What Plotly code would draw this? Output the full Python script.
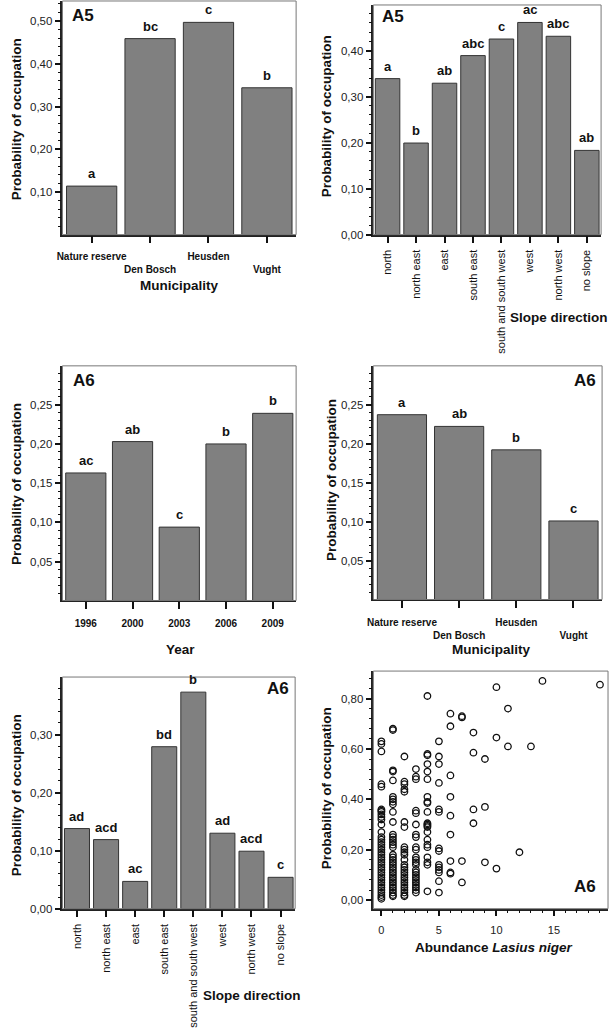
import plotly.graph_objects as go

W, H = 610, 1031

# ---------------- data ----------------
mun_cats = ["Nature reserve", "Den Bosch", "Heusden", "Vught"]
a5_mun_vals = [0.114, 0.459, 0.497, 0.344]
a5_mun_letters = ["a", "bc", "c", "b"]

slope_cats = ["north", "north east", "east", "south east", "south and south west",
              "west", "north west", "no slope"]
a5_slope_vals = [0.339, 0.199, 0.329, 0.389, 0.425, 0.461, 0.431, 0.183]
a5_slope_letters = ["a", "b", "ab", "abc", "c", "ac", "abc", "ab"]

year_cats = ["1996", "2000", "2003", "2006", "2009"]
a6_year_vals = [0.163, 0.203, 0.094, 0.200, 0.239]
a6_year_letters = ["ac", "ab", "c", "b", "b"]

a6_mun_vals = [0.237, 0.222, 0.192, 0.101]
a6_mun_letters = ["a", "ab", "b", "c"]

a6_slope_vals = [0.138, 0.119, 0.047, 0.279, 0.373, 0.130, 0.099, 0.054]
a6_slope_letters = ["ad", "acd", "ac", "bd", "b", "ad", "acd", "c"]

# scatter: probability of occupation by abundance of Lasius niger
ab0 = [0.63, 0.62, 0.59, 0.46, 0.45, 0.36, 0.355, 0.35, 0.34, 0.33, 0.32, 0.30, 0.27,
       0.25, 0.24, 0.23, 0.22, 0.21, 0.20, 0.19, 0.18, 0.17, 0.16, 0.15, 0.14, 0.13,
       0.12, 0.11, 0.10, 0.09, 0.08, 0.07, 0.06, 0.05, 0.04, 0.03, 0.02, 0.012, 0.005]
ab1 = [0.68, 0.675, 0.515, 0.51, 0.475, 0.41, 0.40, 0.39, 0.38, 0.35, 0.31, 0.26,
       0.25, 0.24, 0.23, 0.22, 0.21, 0.18, 0.17, 0.16, 0.15, 0.14, 0.13, 0.12, 0.11,
       0.10, 0.09, 0.08, 0.07, 0.06, 0.05, 0.04, 0.03, 0.02, 0.015]
ab2 = [0.57, 0.47, 0.46, 0.44, 0.43, 0.31, 0.29, 0.21, 0.20, 0.19, 0.18, 0.16, 0.14,
       0.13, 0.12, 0.11, 0.10, 0.09, 0.08, 0.07, 0.06, 0.05, 0.04, 0.03, 0.02, 0.015]
ab3 = [0.52, 0.49, 0.48, 0.355, 0.345, 0.30, 0.26, 0.25, 0.21, 0.20, 0.17, 0.16, 0.15,
       0.14, 0.12, 0.11, 0.10, 0.09, 0.08, 0.07, 0.06, 0.05, 0.04, 0.03]
ab4 = [0.81, 0.58, 0.575, 0.54, 0.51, 0.48, 0.41, 0.39, 0.385, 0.35, 0.305, 0.30,
       0.295, 0.29, 0.27, 0.24, 0.22, 0.21, 0.17, 0.15, 0.14, 0.035]
ab5 = [0.63, 0.57, 0.54, 0.465, 0.36, 0.35, 0.205, 0.195, 0.14, 0.13, 0.12, 0.11,
       0.075, 0.03]
ab6 = [0.74, 0.69, 0.495, 0.41, 0.335, 0.26, 0.155, 0.11, 0.105]
ab7 = [0.73, 0.725, 0.155, 0.07]
ab8 = [0.665, 0.585, 0.36, 0.305]
ab9 = [0.56, 0.37, 0.15]
ab10 = [0.845, 0.645, 0.125]
ab11 = [0.76, 0.61]
ab12 = [0.19]
ab13 = [0.61]
ab14 = [0.87]
ab19 = [0.855]

groups = [(0, ab0), (1, ab1), (2, ab2), (3, ab3), (4, ab4), (5, ab5), (6, ab6),
          (7, ab7), (8, ab8), (9, ab9), (10, ab10), (11, ab11), (12, ab12),
          (13, ab13), (14, ab14), (19, ab19)]
scat_x, scat_y = [], []
for a, ys in groups:
    scat_x += [a] * len(ys)
    scat_y += ys

# ---------------- layout helpers ----------------
FONT = "Liberation Sans, Arial, Helvetica, sans-serif"
BAR_FILL = "#808080"
BAR_LINE = "#333333"


def dx(l, r):
    return [l / W, r / W]


def dy(t, b):
    return [1 - b / H, 1 - t / H]


panels = {
    1: dict(x=(57, 293), y=(1, 236)),
    2: dict(x=(371, 601), y=(5, 236)),
    3: dict(x=(57, 293), y=(368, 604)),
    4: dict(x=(371, 602), y=(368, 603)),
    5: dict(x=(57, 292), y=(681, 914)),
    6: dict(x=(371, 608), y=(675, 914)),
}

fig = go.Figure()
layout = dict(
    width=W, height=H,
    margin=dict(l=0, r=0, t=0, b=0),
    paper_bgcolor="white", plot_bgcolor="white",
    showlegend=False, bargap=0.14,
    separators=",.",
    font=dict(family=FONT, color="#111111"),
)
annotations = []
shapes = []


def ax_names(i):
    return ("x" if i == 1 else f"x{i}"), ("y" if i == 1 else f"y{i}")


def yaxis_cfg(i, rng, dtick, minor, fmt=".2f"):
    p = panels[i]
    xn, _ = ax_names(i)
    return dict(
        domain=dy(*p["y"]), anchor=xn, range=rng,
        tickmode="linear", tick0=0, dtick=dtick, tickformat=fmt,
        ticks="outside", ticklen=6, tickwidth=1.5, tickcolor="#111",
        minor=dict(dtick=minor, tick0=0, ticks="outside", ticklen=3,
                   tickwidth=1, tickcolor="#111", showgrid=False),
        showgrid=False, zeroline=False,
        showline=True, linecolor="#222", linewidth=1.5, mirror=False,
        tickfont=dict(size=11.5, color="#222"),
    )


def cat_xaxis_cfg(i, labels, angle=0, size=10, standoff=5):
    p = panels[i]
    _, yn = ax_names(i)
    n = len(labels)
    return dict(
        domain=dx(*p["x"]), anchor=yn, range=[-0.5, n - 0.5],
        tickmode="array", tickvals=list(range(n)), ticktext=labels,
        tickangle=angle, ticks="outside", ticklen=7, tickwidth=2, tickcolor="#111",
        showgrid=False, zeroline=False,
        showline=True, linecolor="#222", linewidth=1.5, mirror=False,
        tickfont=dict(size=size, color="#111"),
        ticklabelstandoff=standoff,
    )


def add_bars(i, vals, letters):
    xn, yn = ax_names(i)
    xs = list(range(len(vals)))
    fig.add_trace(go.Bar(
        x=xs, y=vals, xaxis=xn, yaxis=yn,
        marker=dict(color=BAR_FILL, line=dict(color=BAR_LINE, width=1)),
        hoverinfo="x+y",
    ))
    for x, v, t in zip(xs, vals, letters):
        annotations.append(dict(
            x=x, y=v, xref=xn, yref=yn, text=f"<b>{t}</b>", showarrow=False,
            yanchor="bottom", yshift=3, font=dict(size=13, color="#111")))


def frame(i):
    p = panels[i]
    l, r = p["x"]
    t, b = p["y"]
    shapes.append(dict(type="rect", xref="paper", yref="paper",
                       x0=l / W, x1=r / W, y0=1 - b / H, y1=1 - t / H,
                       line=dict(color="#777777", width=1), layer="above"))


def paper_text(x, y, text, size, angle=0, xanchor="center", yanchor="middle"):
    annotations.append(dict(
        x=x / W, y=1 - y / H, xref="paper", yref="paper", text=text,
        showarrow=False, textangle=angle, xanchor=xanchor, yanchor=yanchor,
        font=dict(size=size, color="#111")))


# Panel 1: A5 municipality
add_bars(1, a5_mun_vals, a5_mun_letters)
stag1 = [f"<b>{c}</b>" if k % 2 == 0 else f"<br><b>{c}</b>" for k, c in enumerate(mun_cats)]
layout["xaxis"] = cat_xaxis_cfg(1, stag1)
layout["yaxis"] = yaxis_cfg(1, [0.0005, 0.547], 0.1, 0.02)

# Panel 2: A5 slope direction
add_bars(2, a5_slope_vals, a5_slope_letters)
layout["xaxis2"] = cat_xaxis_cfg(2, slope_cats, angle=-90, size=11, standoff=2)
layout["yaxis2"] = yaxis_cfg(2, [0, 0.499], 0.1, 0.02)

# Panel 3: A6 year
add_bars(3, a6_year_vals, a6_year_letters)
layout["xaxis3"] = cat_xaxis_cfg(3, [f"<b>{c}</b>" for c in year_cats], standoff=6)
layout["yaxis3"] = yaxis_cfg(3, [0.0005, 0.2995], 0.05, 0.01)

# Panel 4: A6 municipality
add_bars(4, a6_mun_vals, a6_mun_letters)
layout["xaxis4"] = cat_xaxis_cfg(4, stag1, standoff=6)
layout["yaxis4"] = yaxis_cfg(4, [0.0005, 0.2995], 0.05, 0.01)

# Panel 5: A6 slope direction
add_bars(5, a6_slope_vals, a6_slope_letters)
layout["xaxis5"] = cat_xaxis_cfg(5, slope_cats, angle=-90, size=11, standoff=2)
layout["yaxis5"] = yaxis_cfg(5, [0, 0.399], 0.1, 0.02)

# Panel 6: scatter
fig.add_trace(go.Scatter(
    x=scat_x, y=scat_y, xaxis="x6", yaxis="y6", mode="markers",
    marker=dict(symbol="circle-open", size=6.5, color="#111",
                line=dict(width=1.3, color="#111")),
    hoverinfo="x+y",
))
layout["xaxis6"] = dict(
    domain=dx(*panels[6]["x"]), anchor="y6", range=[-0.7, 19.7],
    tickmode="linear", tick0=0, dtick=5, tickformat="d",
    ticks="outside", ticklen=6, tickwidth=1.5, tickcolor="#111",
    minor=dict(dtick=1, tick0=0, ticks="outside", ticklen=3, tickwidth=1,
               tickcolor="#111", showgrid=False),
    showgrid=False, zeroline=False,
    showline=True, linecolor="#222", linewidth=1.5,
    tickfont=dict(size=11, color="#222"), ticklabelstandoff=4,
)
layout["yaxis6"] = yaxis_cfg(6, [-0.034, 0.909], 0.2, 0.04)

for i in panels:
    frame(i)

# Panel labels
paper_text(65, 16, "<b>A5</b>", 17, xanchor="left")
paper_text(378, 17, "<b>A5</b>", 17, xanchor="left")
paper_text(66, 383, "<b>A6</b>", 17, xanchor="left")
paper_text(598, 383, "<b>A6</b>", 17, xanchor="right")
paper_text(288, 693, "<b>A6</b>", 17, xanchor="right")
paper_text(598, 892, "<b>A6</b>", 17, xanchor="right")

# Y axis titles
ytitle = "<b>Probability of occupation</b>"
paper_text(10, 120, ytitle, 13.5, angle=-90)
paper_text(323, 117, ytitle, 13.5, angle=-90)
paper_text(10, 487, ytitle, 13.5, angle=-90)
paper_text(328, 483, ytitle, 13.5, angle=-90)
paper_text(10, 800, ytitle, 13.5, angle=-90)
paper_text(324, 793, ytitle, 13.5, angle=-90)

# X axis titles
paper_text(175, 287, "<b>Municipality</b>", 13.5)
paper_text(558, 319, "<b>Slope direction</b>", 13.5)
paper_text(176, 653, "<b>Year</b>", 13.5)
paper_text(490, 653, "<b>Municipality</b>", 13.5)
paper_text(248, 1001, "<b>Slope direction</b>", 13.5)
paper_text(493, 953, "<b>Abundance <i>Lasius niger</i></b>", 13.5)

layout["annotations"] = annotations
layout["shapes"] = shapes
fig.update_layout(**layout)
fig.write_html(
    "out.html",
    config={"displayModeBar": False},
    post_script="document.body.style.margin='0';document.body.style.padding='0';"
                "document.body.style.overflow='hidden';",
)
